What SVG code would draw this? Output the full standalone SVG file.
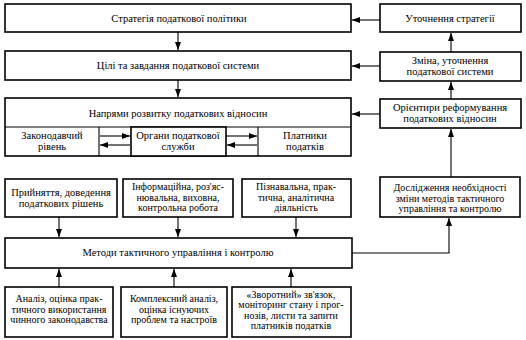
<svg xmlns="http://www.w3.org/2000/svg" width="526" height="340" viewBox="0 0 526 340">
<defs>
<marker id="ah" viewBox="0 0 8 6" refX="8" refY="3" markerWidth="8" markerHeight="6" markerUnits="userSpaceOnUse" orient="auto">
<path d="M0,0 L8,3 L0,6 Z" fill="#000"/>
</marker>
<style>
.b{fill:#fff;stroke:#000;stroke-width:1.6}
.l{fill:none;stroke:#000;stroke-width:1.1}
.c{stroke:#000;stroke-width:1.1;fill:none;marker-end:url(#ah)}
text{font-family:"Liberation Serif","DejaVu Serif",serif;font-size:10.5px;fill:#000;text-anchor:middle}
.s{font-size:10px}
</style>
</defs>
<rect width="526" height="340" fill="#fff"/>
<g id="n-strategy"><rect class="b" x="5" y="4" width="346" height="28"/><text x="179" y="22">Стратегія податкової політики</text></g>
<g id="n-goals"><rect class="b" x="5" y="51" width="346" height="29"/><text x="178" y="69">Цілі та завдання податкової системи</text></g>
<g id="n-directions"><rect class="b" x="5" y="98" width="346" height="58"/><line class="l" x1="5" y1="127" x2="351" y2="127"/><text x="178" y="117">Напрями розвитку податкових відносин</text></g>
<g id="n-legis"><line class="l" x1="99" y1="127" x2="99" y2="156"/><text x="52" y="139">Законодавчий</text><text x="52" y="150">рівень</text></g>
<g id="n-organs"><rect class="b" x="131" y="127" width="95" height="29"/><text x="178" y="139">Органи податкової</text><text x="178" y="150">служби</text></g>
<g id="n-payers"><line class="l" x1="258" y1="127" x2="258" y2="156"/><text x="305" y="139">Платники</text><text x="305" y="150">податків</text></g>
<g id="n-refine-strategy"><rect class="b" x="380" y="4" width="141" height="28"/><text x="450" y="22">Уточнення стратегії</text></g>
<g id="n-change-system"><rect class="b" x="380" y="52" width="141" height="29"/><text x="450" y="64">Зміна, уточнення</text><text x="450" y="75">податкової системи</text></g>
<g id="n-reform"><rect class="b" x="380" y="99" width="141" height="29"/><text x="450" y="111">Орієнтири реформування</text><text x="450" y="122">податкових відносин</text></g>
<g id="n-research"><rect class="b" x="380" y="177" width="140" height="40"/><text class="s" x="450" y="191">Дослідження необхідності</text><text class="s" x="450" y="201.5">зміни методів тактичного</text><text class="s" x="450" y="212">управління та контролю</text></g>
<g id="n-decisions"><rect class="b" x="5" y="179" width="112" height="38"/><text x="61" y="196">Прийняття, доведення</text><text x="61" y="207">податкових рішень</text></g>
<g id="n-info"><rect class="b" x="123" y="179" width="110" height="38"/><text class="s" x="178" y="190">Інформаційна, роз'яс-</text><text class="s" x="178" y="200.5">нювальна, виховна,</text><text class="s" x="178" y="211">контрольна робота</text></g>
<g id="n-cognitive"><rect class="b" x="242" y="179" width="109" height="38"/><text class="s" x="296" y="190">Пізнавальна, прак-</text><text class="s" x="296" y="200.5">тична, аналітична</text><text class="s" x="296" y="211">діяльність</text></g>
<g id="n-methods"><rect class="b" x="5" y="238" width="347" height="30"/><text x="178" y="256">Методи тактичного управління і контролю</text></g>
<g id="n-analysis"><rect class="b" x="5" y="287" width="108" height="50"/><text class="s" x="59" y="302">Аналіз, оцінка прак-</text><text class="s" x="59" y="312.5">тичного використання</text><text class="s" x="59" y="323">чинного законодавства</text></g>
<g id="n-complex"><rect class="b" x="121" y="287" width="106" height="50"/><text class="s" x="174" y="302">Комплексний аналіз,</text><text class="s" x="174" y="312.5">оцінка існуючих</text><text class="s" x="174" y="323">проблем та настроїв</text></g>
<g id="n-feedback"><rect class="b" x="232" y="287" width="119" height="50"/><text class="s" x="291" y="297.5">«Зворотний» зв'язок,</text><text class="s" x="291" y="308">моніторинг стану і прог-</text><text class="s" x="291" y="318.5">нозів, листи та запити</text><text class="s" x="291" y="329">платників податків</text></g>
<g id="connectors">
<line class="c" x1="178" y1="32" x2="178" y2="50"/>
<line class="c" x1="178" y1="80" x2="178" y2="97"/>
<line class="c" x1="380" y1="20" x2="352" y2="20"/>
<line class="c" x1="380" y1="66" x2="352" y2="66"/>
<line class="c" x1="380" y1="114" x2="352" y2="114"/>
<line class="c" x1="451" y1="52" x2="451" y2="33"/>
<line class="c" x1="451" y1="99" x2="451" y2="82"/>
<line class="c" x1="451" y1="177" x2="451" y2="129"/>
<line class="c" x1="100" y1="136" x2="130" y2="136"/>
<line class="c" x1="130" y1="145" x2="100" y2="145"/>
<line class="c" x1="226" y1="136" x2="257" y2="136"/>
<line class="c" x1="257" y1="145" x2="227" y2="145"/>
<line class="c" x1="59" y1="217" x2="59" y2="237"/>
<line class="c" x1="178" y1="217" x2="178" y2="237"/>
<line class="c" x1="296" y1="217" x2="296" y2="237"/>
<line class="c" x1="59" y1="287" x2="59" y2="269"/>
<line class="c" x1="174" y1="287" x2="174" y2="269"/>
<line class="c" x1="291" y1="287" x2="291" y2="269"/>
<polyline class="c" points="352,253 449,253 449,218"/>
</g>
</svg>
